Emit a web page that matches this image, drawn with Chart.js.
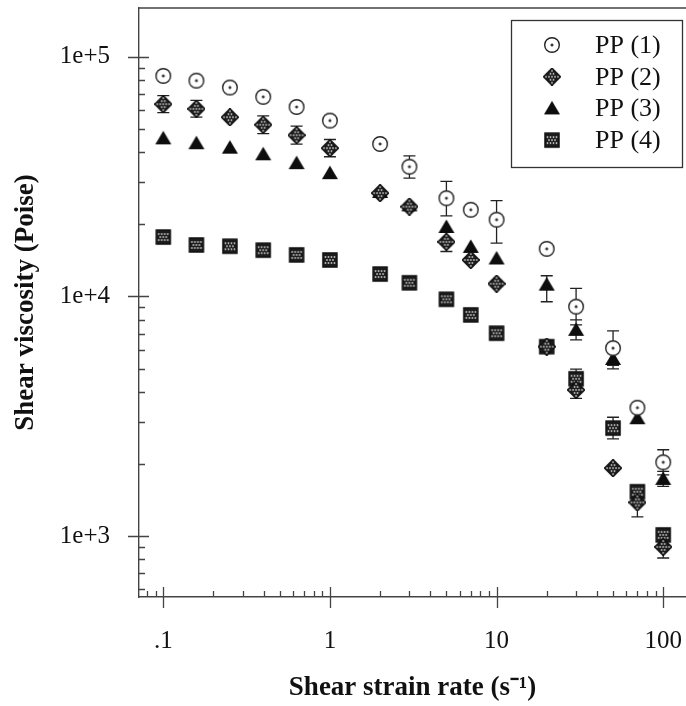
<!DOCTYPE html>
<html>
<head>
<meta charset="utf-8">
<script src="https://cdn.jsdelivr.net/npm/chart.js@4.4.1/dist/chart.umd.min.js"></script>
<style>
  html, body { margin: 0; padding: 0; background: #fff; }
</style>
</head>
<body>
<canvas id="viscosityChart" width="686" height="706"></canvas>
<script>
// shear strain rate (1/s)
const shearRates = [0.1, 0.158, 0.251, 0.398, 0.631, 1, 2, 3, 5, 7, 10, 20, 30, 50, 70, 100];

// shear viscosity (Poise)
const pp1 = [83300, 79600, 74500, 68100, 61800, 54200, 43300, 34800, 25700, 23000, 20900, 15800, 9060, 6080, 3430, 2030];
const pp2 = [63500, 60700, 56000, 52100, 47100, 41600, 27000, 23700, 16900, 14200, 11300, 6170, 4070, 1920, 1380, 900];
const pp3 = [45700, 43600, 41800, 39200, 36000, 32700, 27300, 24000, 19500, 16100, 14400, 11200, 7250, 5480, 3100, 1730];
const pp4 = [17700, 16400, 16200, 15600, 14900, 14200, 12400, 11400, 9730, 8370, 7020, 6170, 4530, 2820, 1530, 1010];

// error bars [low, high], null where none is drawn
const pp1Err = [null, null, null, null, null, null, null, [31200, 38600], [21700, 30200], null, [16700, 25100], null, [7600, 10800], [5150, 7180], null, [1800, 2290]];
const pp2Err = [[58500, 68900], [56000, 65800], null, [47800, 56700], [43200, 51400], [38300, 45200], null, null, [15400, 18500], null, null, null, [3750, 4420], null, [1200, 1590], [809, 1000]];
const pp3Err = [null, null, null, null, null, null, null, null, null, null, null, [9500, 12200], [6580, 7980], [4980, 6030], null, [1610, 1860]];
const pp4Err = [null, null, null, null, null, null, null, null, null, null, null, null, [4130, 4970], [2540, 3130], null, null];

const seriesLabels = ["PP (1)", "PP (2)", "PP (3)", "PP (4)"];

// axis ticks
const xTicks = [0.1, 1, 10, 100];
const xTickLabels = [".1", "1", "10", "100"];
const yTicks = [1000, 10000, 100000];
const yTickLabels = ["1e+3", "1e+4", "1e+5"];

const SERIF = '"Liberation Serif", "Times New Roman", serif';
const INK = "#111";

// marcadores dibujados a mano (círculo con punto, rombo y cuadrado tramados)
function makeMarker(kind) {
  const c = document.createElement("canvas");
  c.width = 18;
  c.height = 18;
  const g = c.getContext("2d");
  g.translate(9, 9);

  function shape() {
    g.beginPath();
    if (kind === "diamond") {
      g.moveTo(0, -8.5); g.lineTo(8.5, 0); g.lineTo(0, 8.5); g.lineTo(-8.5, 0);
      g.closePath();
    } else if (kind === "square") {
      g.rect(-7, -7, 14, 14);
    }
  }

  function hatch() {
    g.save();
    shape();
    g.fillStyle = "#1c1c1c";
    g.fill();
    g.clip();
    g.fillStyle = "#e6e6e6";
    for (let i = -9; i <= 9; i += 3) {
      for (let j = -9; j <= 9; j += 3) {
        const off = (Math.abs(j / 3) % 2) * 1.5;
        const cx = i + off;
        if (kind === "diamond" && Math.abs(cx) + Math.abs(j) > 6) continue;
        if (kind === "square" && (Math.abs(cx) > 5 || Math.abs(j) > 5)) continue;
        g.fillRect(cx - 0.75, j - 0.75, 1.5, 1.5);
      }
    }
    g.restore();
    shape();
    g.strokeStyle = "#111";
    g.lineWidth = 1.5;
    g.stroke();
  }

  if (kind === "circle") {
    g.beginPath();
    g.arc(0, 0, 7.3, 0, Math.PI * 2);
    g.fillStyle = "#fff";
    g.fill();
    g.strokeStyle = "#222";
    g.lineWidth = 1.4;
    g.stroke();
    g.fillStyle = "#111";
    g.fillRect(-1.5, -0.6, 3, 1.2);
    g.fillRect(-0.6, -1.5, 1.2, 3);
  } else if (kind === "triangle") {
    g.beginPath();
    g.moveTo(0, -7.5); g.lineTo(8, 6); g.lineTo(-8, 6);
    g.closePath();
    g.fillStyle = "#0d0d0d";
    g.fill();
  } else {
    hatch();
  }
  return c;
}

const markers = [makeMarker("circle"), makeMarker("diamond"), makeMarker("triangle"), makeMarker("square")];

function toPoints(values, errs) {
  return shearRates.map((r, i) => ({ x: r, y: values[i], err: errs[i] }));
}

// barras de error con los ejes del propio gráfico
const errorBars = {
  id: "errorBars",
  beforeDatasetsDraw(chart) {
    const { ctx, scales: { x, y } } = chart;
    ctx.save();
    ctx.strokeStyle = "#222";
    ctx.lineWidth = 1.3;
    ctx.beginPath();
    chart.data.datasets.forEach((ds) => {
      ds.data.forEach((p) => {
        if (!p.err) return;
        const px = x.getPixelForValue(p.x);
        const lo = y.getPixelForValue(p.err[0]);
        const hi = y.getPixelForValue(p.err[1]);
        ctx.moveTo(px, lo); ctx.lineTo(px, hi);
        ctx.moveTo(px - 6, lo); ctx.lineTo(px + 6, lo);
        ctx.moveTo(px - 6, hi); ctx.lineTo(px + 6, hi);
      });
    });
    ctx.stroke();
    ctx.restore();
  },
};

// marcas mayores y menores de los ejes log, más el borde superior
const axisTicks = {
  id: "axisTicks",
  afterDraw(chart) {
    const { ctx, chartArea: a, scales: { x, y } } = chart;
    ctx.save();
    ctx.strokeStyle = "#444";
    ctx.lineWidth = 1.3;
    ctx.beginPath();
    ctx.moveTo(a.left, a.top);
    ctx.lineTo(a.right, a.top);
    for (let d = -2; d <= 2; d++) {
      for (let m = 1; m <= 9; m++) {
        const v = m * Math.pow(10, d);
        if (v < x.min || v > x.max) continue;
        const px = Math.round(x.getPixelForValue(v)) + 0.5;
        if (m === 1) {
          ctx.moveTo(px, a.bottom - 10); ctx.lineTo(px, a.bottom + 11);
        } else {
          ctx.moveTo(px, a.bottom); ctx.lineTo(px, a.bottom - 6);
        }
      }
    }
    for (let d = 2; d <= 5; d++) {
      for (let m = 1; m <= 9; m++) {
        const v = m * Math.pow(10, d);
        if (v < y.min || v > y.max) continue;
        const py = Math.round(y.getPixelForValue(v)) + 0.5;
        if (m === 1) {
          ctx.moveTo(a.left - 11, py); ctx.lineTo(a.left + 10, py);
        } else {
          ctx.moveTo(a.left, py); ctx.lineTo(a.left + 6, py);
        }
      }
    }
    ctx.stroke();
    ctx.restore();
  },
};

// leyenda enmarcada dentro del área del gráfico
const boxLegend = {
  id: "boxLegend",
  afterDraw(chart) {
    const ctx = chart.ctx;
    ctx.save();
    ctx.strokeStyle = "#333";
    ctx.lineWidth = 1.3;
    ctx.strokeRect(511.5, 20.5, 171, 147);
    ctx.font = "26px " + SERIF;
    ctx.fillStyle = INK;
    ctx.textBaseline = "middle";
    chart.data.datasets.forEach((ds, i) => {
      const yy = 45 + i * 31.7;
      const img = ds.pointStyle;
      ctx.drawImage(img, 552 - img.width / 2, yy - img.height / 2);
      ctx.fillText(ds.label, 595, yy + 1);
    });
    ctx.restore();
  },
};

function noPad(s) {
  s.paddingTop = 0;
  s.paddingBottom = 0;
  s.paddingLeft = 0;
  s.paddingRight = 0;
}

const allData = [pp1, pp2, pp3, pp4];
const allErr = [pp1Err, pp2Err, pp3Err, pp4Err];

new Chart(document.getElementById("viscosityChart"), {
  type: "scatter",
  data: {
    datasets: allData.map((vals, i) => ({
      label: seriesLabels[i],
      data: toPoints(vals, allErr[i]),
      pointStyle: markers[i],
      pointRadius: 9,
      pointHoverRadius: 9,
      showLine: false,
    })),
  },
  options: {
    responsive: false,
    animation: false,
    events: [],
    layout: { autoPadding: false, padding: { top: 8, right: 0, left: 0, bottom: 0 } },
    plugins: {
      legend: { display: false },
      tooltip: { enabled: false },
    },
    scales: {
      x: {
        type: "logarithmic",
        position: "bottom",
        min: 0.0715,
        max: 137,
        afterFit(s) { s.height = 109; noPad(s); },
        afterBuildTicks(s) { s.ticks = xTicks.map((v) => ({ value: v })); },
        ticks: {
          autoSkip: false,
          maxRotation: 0,
          padding: 29,
          color: INK,
          font: { family: SERIF, size: 25 },
          callback: (v, i) => xTickLabels[i],
        },
        grid: { display: false, drawTicks: false },
        border: { display: true, color: "#444", width: 1.4 },
        title: {
          display: true,
          text: "Shear strain rate (s\u207B\u00B9)",
          color: INK,
          font: { family: SERIF, size: 27, weight: "bold" },
          padding: { top: 0, bottom: 2 },
        },
      },
      y: {
        type: "logarithmic",
        position: "left",
        min: 556,
        max: 160000,
        afterFit(s) { s.width = 139; noPad(s); },
        afterBuildTicks(s) { s.ticks = yTicks.map((v) => ({ value: v })); },
        ticks: {
          autoSkip: false,
          padding: 29,
          color: INK,
          font: { family: SERIF, size: 25 },
          callback: (v, i) => yTickLabels[i],
        },
        grid: { display: false, drawTicks: false },
        border: { display: true, color: "#444", width: 1.4 },
        title: {
          display: true,
          text: "Shear viscosity (Poise)",
          color: INK,
          font: { family: SERIF, size: 27, weight: "bold" },
          padding: { top: 10, bottom: 0 },
        },
      },
    },
  },
  plugins: [errorBars, axisTicks, boxLegend],
});
</script>
</body>
</html>
